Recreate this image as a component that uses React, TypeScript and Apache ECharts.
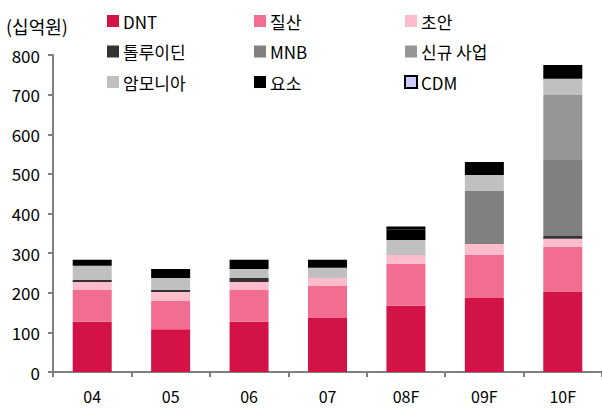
import React, { useEffect, useRef } from "react";
import * as echarts from "echarts";

const categories = ["04", "05", "06", "07", "08F", "09F", "10F"];
const seriesNames = ["DNT", "질산", "초안", "톨루이딘", "MNB", "신규 사업", "암모니아", "요소", "CDM"];
const dnt = [127, 108, 127, 136, 167, 187, 202];
const nitric = [80, 71, 80, 81, 106, 108, 114];
const ammoniumNitrate = [20, 23, 20, 20, 22, 28, 20];
const toluidine = [5, 5, 10, null, null, null, 7];
const mnb = [null, null, null, null, null, 134, 192];
const newBiz = [null, null, null, null, null, null, 164];
const ammonia = [36, 30, 23, 26, 38, 40, 41];
const urea = [15, 23, 23, 20, 26, 33, 35];
const cdm = [null, null, null, null, 8, null, null];
const yTicks = { min: 0, max: 800, interval: 100 };

const colors = ["#D31245", "#F26E91", "#FBBCCC", "#333333", "#808080", "#969696", "#C0C0C0", "#000000", "#CCCCFF"];
const seriesData = [dnt, nitric, ammoniumNitrate, toluidine, mnb, newBiz, ammonia, urea, cdm];

const FONT = "'Noto Sans CJK KR', 'Noto Sans', sans-serif";

export default function App() {
  const ref = useRef<HTMLDivElement>(null);
  useEffect(() => {
    const chart = echarts.init(ref.current!, null, { renderer: "svg" });
    const legendBase = {
      orient: "vertical" as const,
      top: 12,
      itemWidth: 12,
      itemHeight: 12,
      itemGap: 12.5,
      icon: "rect",
      padding: 0,
      textStyle: { fontSize: 17, lineHeight: 18, color: "#000", fontFamily: FONT, padding: [0, 0, 0, -1] },
    };
    chart.setOption({
      animation: false,
      textStyle: { fontFamily: FONT },
      grid: { left: 53, right: 0, top: 55, bottom: 37 },
      legend: [
        { ...legendBase, left: 107, data: ["DNT", "톨루이딘", "암모니아"] },
        { ...legendBase, left: 254, data: ["질산", "MNB", "요소"] },
        { ...legendBase, left: 404, data: ["초안", "신규 사업", "CDM"] },
      ],
      graphic: [
        {
          type: "text",
          left: 6,
          top: 17,
          style: { text: "(십억원)", fontSize: 18, fill: "#000", fontFamily: FONT },
        },
      ],
      xAxis: {
        type: "category",
        data: categories,
        axisLine: { lineStyle: { color: "#808080", width: 2 } },
        axisTick: { show: true, length: 5, lineStyle: { color: "#808080", width: 2 } },
        axisLabel: { color: "#000", fontSize: 16, lineHeight: 16, margin: 16, fontFamily: FONT },
      },
      yAxis: {
        type: "value",
        min: yTicks.min,
        max: yTicks.max,
        interval: yTicks.interval,
        splitLine: { show: false },
        axisLine: { show: true, lineStyle: { color: "#808080", width: 2 } },
        axisTick: { show: true, length: 5, lineStyle: { color: "#808080", width: 2 } },
        axisLabel: { color: "#000", fontSize: 17, margin: 13, fontFamily: FONT },
      },
      series: seriesNames.map((name, i) => ({
        name,
        type: "bar",
        stack: "total",
        barWidth: 39,
        data: seriesData[i],
        itemStyle:
          name === "CDM"
            ? { color: colors[i], borderColor: "#000", borderWidth: 2 }
            : { color: colors[i] },
      })),
    });
    return () => chart.dispose();
  }, []);
  return <div ref={ref} style={{ width: 602, height: 409, position: "absolute", left: 0, top: 0 }} />;
}
